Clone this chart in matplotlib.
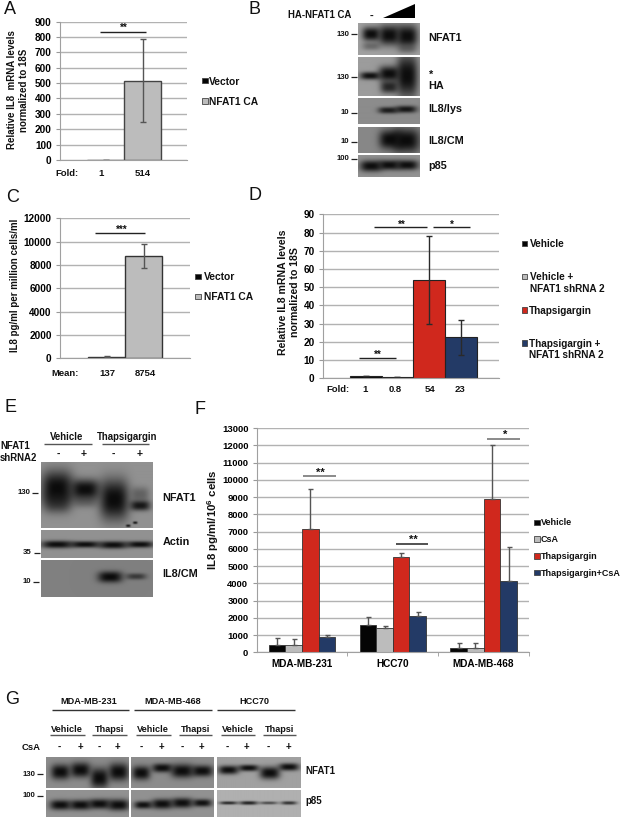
import numpy as np
import matplotlib
matplotlib.use('Agg')
import matplotlib.pyplot as plt
from matplotlib.patches import Rectangle, Polygon

plt.rcParams['font.family'] = ['Liberation Sans', 'DejaVu Sans']
plt.rcParams['font.weight'] = 'bold'
plt.rcParams['mathtext.fontset'] = 'custom'
plt.rcParams['mathtext.bf'] = 'Liberation Sans:bold'

W, H = 622, 818
BLACK, GREY, RED, NAVY = '#050505', '#bcbcbc', '#d0281d', '#233a66'

# panel A
a_values = [1, 514]
a_err = [0, 270]
a_ticks = list(range(0, 901, 100))
# panel C
c_values = [137, 8754]
c_err = [40, 1030]
c_ticks = list(range(0, 12001, 2000))
# panel D
d_values = [1, 0.8, 54, 22.5]
d_err = [0, 0, 24, 9.7]
d_ticks = list(range(0, 91, 10))
d_fold = ['1', '0.8', '54', '23']
# panel F
f_groups = ['MDA-MB-231', 'HCC70', 'MDA-MB-468']
f_vehicle = [420, 1560, 260]
f_csa = [410, 1390, 250]
f_thapsi = [7150, 5500, 8900]
f_thapsi_csa = [880, 2120, 4130]
f_vehicle_err = [380, 510, 260]
f_csa_err = [360, 130, 270]
f_thapsi_err = [2300, 230, 3100]
f_thapsi_csa_err = [150, 190, 1950]
f_ticks = list(range(0, 13001, 1000))

fig = plt.figure(figsize=(W / 100, H / 100), dpi=100, facecolor='white')


def make_axes(left, right, top, bottom, ticks, fs=7.2):
    ax = fig.add_axes([left / W, 1 - bottom / H, (right - left) / W, (bottom - top) / H])
    ax.set_ylim(0, ticks[-1])
    ax.set_yticks(ticks)
    ax.tick_params(axis='y', length=3, width=0.8, color='#999999', labelsize=fs, pad=3)
    ax.tick_params(axis='x', length=0, labelbottom=False)
    ax.grid(axis='y', color='#b2b2b2', lw=1)
    ax.set_axisbelow(True)
    for s in ['top', 'right']:
        ax.spines[s].set_visible(False)
    for s in ['left', 'bottom']:
        ax.spines[s].set_color('#a0a0a0')
    return ax


def xlim_for(ax, left, right, first_center, unit):
    ax.set_xlim((left - first_center) / unit, (right - first_center) / unit)


ecolor = '#555555'
ax = make_axes(60, 187, 21.5, 160, a_ticks)
ax.bar([0, 1], a_values, 1, color=[BLACK, GREY], edgecolor='#444444', lw=1,
       yerr=a_err, ecolor=ecolor, error_kw=dict(lw=1, capsize=2.2, capthick=1))
xlim_for(ax, 60, 187, 105.5, 37)

ax = make_axes(60, 190, 218.3, 358.3, c_ticks)
ax.bar([0, 1], c_values, 1, color=[BLACK, GREY], edgecolor='#333333', lw=1,
       yerr=c_err, ecolor=ecolor, error_kw=dict(lw=1, capsize=2.2, capthick=1))
xlim_for(ax, 60, 190, 106.5, 37.3)

ax = make_axes(323, 499, 214.3, 378.3, d_ticks)
ax.bar(range(4), d_values, 1, color=[BLACK, GREY, RED, NAVY], edgecolor='#222222', lw=0.8,
       yerr=d_err, ecolor='#2a2a2a', error_kw=dict(lw=1, capsize=2.2, capthick=1))
xlim_for(ax, 323, 499, 365.7, 31.7)

ax = make_axes(256.7, 529, 428, 652.3, f_ticks, fs=6.8)
x = np.arange(3)
bw = 16.65 / 90.8
f_series = [(f_vehicle, f_vehicle_err, BLACK), (f_csa, f_csa_err, GREY),
            (f_thapsi, f_thapsi_err, RED), (f_thapsi_csa, f_thapsi_csa_err, NAVY)]
for i, (vals, errs, col) in enumerate(f_series):
    ax.bar(x + (i - 1.5) * bw, vals, bw, color=col, edgecolor='#333333', lw=0.6,
           yerr=[[0] * 3, errs], ecolor='#555555', error_kw=dict(lw=1, capsize=1.8, capthick=1))
ax.set_xlim(-0.5, 2.5)
ax.set_xticks(x, f_groups)
ax.set_xticks([0.5, 1.5, 2.5], minor=True)
ax.tick_params(axis='x', which='major', labelbottom=True, labelsize=7.2, pad=5)
ax.tick_params(axis='x', which='minor', length=3, color='#999999')

# overlay in pixel coordinates for labels and blots
ov = fig.add_axes([0, 0, 1, 1], facecolor='none')
ov.set_xlim(0, W)
ov.set_ylim(H, 0)
ov.axis('off')


def t(x, y, s, size=7.2, ha='center', weight='bold', rot=0):
    ov.text(x, y, s, fontsize=size, ha=ha, va='center', fontweight=weight, rotation=rot,
            color='#111111', rotation_mode='anchor' if rot else 'default')


def hline(x0, x1, y, color='#222222', lw=1):
    ov.plot([x0, x1], [y, y], color=color, lw=lw, solid_capstyle='butt')


def key(x, y, color):
    ov.add_patch(Rectangle((x, y - 2.8), 5.5, 5.5, facecolor=color, edgecolor='#444444', lw=0.6))


def blot(x0, x1, y0, y1, bg, bands):
    xx, yy = np.meshgrid(np.arange(x0, x1, 0.5), np.arange(y0, y1, 0.5))
    keep = np.ones_like(xx)
    for cx, cy, hw, hh, s in bands:
        d = s * np.exp(-(np.abs((xx - cx) / (hw * 1.12)) ** 3) - (np.abs((yy - cy) / (hh * 1.25)) ** 2.4))
        keep *= 1 - d
    img = 0.04 + (bg - 0.09) * keep
    ov.imshow(img, cmap='gray', vmin=0, vmax=1, extent=[x0, x1, y1, y0], aspect='auto',
              interpolation='bilinear', zorder=2)


# panel letters
for lx, ly, letter in [(4, 9, 'A'), (249, 9, 'B'), (6, 197, 'C'), (249, 195, 'D'),
                       (5, 408, 'E'), (195, 410, 'F'), (5, 700, 'G')]:
    t(lx, ly, letter, size=13, ha='left', weight='normal')

# panel A text
t(12, 90, 'Relative IL8  mRNA levels', rot=90, size=7)
t(24, 90, 'normalized to 18S', rot=90, size=7)
hline(100.3, 145.7, 32.3)
t(124, 28, '**', size=7)
t(66.7, 173, 'Fold:', size=6.8)
t(101, 173, '1', size=6.8)
t(143, 173, '514', size=6.8)
key(202, 80.5, BLACK)
t(209, 82, 'Vector', ha='left', size=7.4)
key(202, 101, GREY)
t(209, 102, 'NFAT1 CA', ha='left', size=7.4)

# panel C text
t(15, 285, 'IL8 pg/ml per million cells/ml', rot=90, size=7.0)
hline(95.3, 145, 233)
t(121.7, 230, '***', size=7)
t(65, 374, 'Mean:', size=6.8)
t(107.7, 374, '137', size=6.8)
t(145.7, 374, '8754', size=6.8)
key(195, 276.7, BLACK)
t(204, 277, 'Vector', ha='left', size=7.4)
key(195, 296.5, GREY)
t(204, 297, 'NFAT1 CA', ha='left', size=7.4)

# panel D text
t(283, 292, 'Relative IL8 mRNA levels', rot=90, size=7.6)
t(295, 292, 'normalized to 18S', rot=90, size=7.6)
hline(374, 427.3, 227.3)
t(402, 225, '**', size=7)
hline(433.3, 470.3, 227.3)
t(452, 225, '*', size=7)
hline(359, 396, 358.3)
t(378, 355, '**', size=7)
t(337.7, 390, 'Fold:', size=6.8)
for fx, lab in zip([365, 395, 430, 460], d_fold):
    t(fx, 390, lab, size=6.8)
key(521.7, 243.3, BLACK)
t(530, 244, 'Vehicle', ha='left')
key(521.7, 276.5, GREY)
t(530, 277, 'Vehicle +', ha='left')
t(530, 289, 'NFAT1 shRNA 2', ha='left')
key(521.7, 310, RED)
t(529, 311, 'Thapsigargin', ha='left')
key(521.7, 343, NAVY)
t(529, 344, 'Thapsigargin +', ha='left')
t(529, 355.5, 'NFAT1 shRNA 2', ha='left')

# panel F text
t(212.7, 520, r'IL8 pg/ml/10$^{\mathbf{6}}$ cells', rot=90, size=8.2)
hline(303.3, 336, 475.7, color='#777777', lw=1.2)
t(320, 473, '**', size=8)
hline(395.7, 427.7, 544.3, lw=1.1)
t(413, 540, '**', size=8)
hline(487.3, 519.7, 439, color='#777777', lw=1.2)
t(505, 435, '*', size=8)
for ky, lab, col in zip([522.3, 539, 556, 572.7],
                        ['Vehicle', 'CsA', 'Thapsigargin', 'Thapsigargin+CsA'],
                        [BLACK, GREY, RED, NAVY]):
    key(534, ky, col)
    t(541, ky + 0.5, lab, ha='left', size=6.5)

# panel B
t(320, 15, 'HA-NFAT1 CA', size=6.9)
t(372, 16, '-', size=8)
ov.add_patch(Polygon([(383, 17.5), (414.7, 17.5), (414.7, 4)], facecolor='black', edgecolor='none'))
blot(358, 419.7, 23.3, 54.7, 0.68, [(371, 34, 8, 5.5, 0.98), (371, 46, 8, 3, 0.35),
                                    (389, 35, 9.5, 8, 0.98), (407, 36, 9.5, 9, 0.98), (407, 49, 8, 3, 0.25)])
blot(358, 419.7, 57.7, 96, 0.66, [(370, 76, 9, 3, 0.95), (389, 74, 9.5, 6, 0.98), (389, 87, 8, 5, 0.8),
                                  (407, 76, 9.5, 17, 0.98)])
blot(358, 419.7, 98.7, 124, 0.6, [(388, 110.5, 9, 2.6, 0.85), (406, 109.5, 9.5, 2.8, 0.9)])
blot(358, 419.7, 126.7, 152.7, 0.58, [(390, 139, 10, 7.5, 0.99), (406, 140, 12, 9.5, 0.99)])
blot(358, 419.7, 155.7, 177.3, 0.62, [(371, 166.5, 10, 4.5, 0.97), (389, 165.5, 9.5, 4, 0.97), (407, 165.5, 10, 4, 0.97)])
for my, lab in [(34.3, '130'), (77.3, '130'), (113, '10'), (141.7, '10'), (159, '100')]:
    t(349.5, my, lab, size=5.6, ha='right')
    hline(351, 357, my, lw=0.9)
for ly, lab in [(37.7, 'NFAT1'), (75, '*'), (86, 'HA'), (109, 'IL8/lys'), (141, 'IL8/CM'), (165.7, 'p85')]:
    t(428.7, ly, lab, ha='left', size=7.8)

# panel E
t(67, 436.7, 'Vehicle', size=6.9)
t(126.7, 436.7, 'Thapsigargin', size=6.9)
hline(44, 92, 444, color='#555555')
hline(101.7, 149.3, 444, color='#555555')
t(0, 446, 'NFAT1', ha='left', size=6.9)
t(0, 457.7, 'shRNA2', ha='left', size=6.9)
lanes_e = [58, 84, 113, 140]
for lx, sign in zip(lanes_e, '-+-+'):
    t(lx, 454, sign, size=7.5)
blot(41, 152.7, 463, 528.3, 0.62, [(57, 489, 14, 14, 0.99), (57, 503, 12, 8, 0.5),
                                   (85, 490, 13, 8, 0.98), (85, 502, 11, 5, 0.3),
                                   (114, 500, 13, 16, 0.99), (140, 506, 9, 4, 0.9), (140, 495, 8, 6, 0.35),
                                   (135, 523, 2, 1, 0.9), (128, 526, 2, 1, 0.9)])
blot(41, 152.7, 530.3, 558, 0.62, [(57, 544.5, 14, 3, 0.97), (85, 544.5, 13, 2.6, 0.97),
                                   (113, 545, 13, 3, 0.97), (140, 544.5, 12, 2.6, 0.97)])
blot(41, 152.7, 560.3, 597, 0.55, [(110, 577, 11, 4.5, 0.99), (136, 576.5, 9, 2.5, 0.6)])
for my, lab, dx in [(492.7, '130', 32), (552.7, '35', 34), (581.7, '10', 33)]:
    t(dx - 2, my, lab, size=5.6, ha='right')
    hline(dx, dx + 6, my, lw=0.9)
for ly, lab in [(498, 'NFAT1'), (542, 'Actin'), (574, 'IL8/CM')]:
    t(162.7, ly, lab, ha='left', size=7.8)

# panel G
for cx, x0, x1, lab in [(89, 52, 129, 'MDA-MB-231'), (173, 134.3, 211.7, 'MDA-MB-468'), (254.3, 217, 294.7, 'HCC70')]:
    t(cx, 701.7, lab, size=6.6)
    hline(x0, x1, 710, color='#333333')
for cx, x0, x1, lab in [(67.3, 50, 85.3, 'Vehicle'), (109.3, 92.3, 126.7, 'Thapsi'),
                        (153.3, 136, 171, 'Vehicle'), (195.3, 178.7, 212, 'Thapsi'),
                        (237.7, 220.7, 255.3, 'Vehicle'), (280, 263.3, 296, 'Thapsi')]:
    t(cx, 729.3, lab, size=6.6)
    hline(x0, x1, 735, color='#555555')
t(21.7, 747.3, 'CsA', ha='left', size=6.8)
lanes_g = [59.5, 80, 99.5, 117.5, 141.7, 161.7, 182, 201.7, 227, 246.7, 268, 288]
for lx, sign in zip(lanes_g, '-+-+-+-+-+-+'):
    t(lx, 747.3, sign, size=7)
blot(45.7, 128.3, 757.3, 788, 0.6, [(60, 772, 8.5, 6, 0.98), (80, 770, 9, 6, 0.98), (99, 778, 8, 8, 0.98), (118, 772, 9, 7, 0.98)])
blot(131, 214, 757.3, 788, 0.6, [(141, 773, 8, 5.5, 0.98), (162, 768, 9, 3.5, 0.97), (182, 771, 10, 5.5, 0.98), (202, 771, 9.5, 4.5, 0.97)])
blot(216.7, 300, 757.3, 788, 0.68, [(228, 770, 9, 3.5, 0.97), (248, 768, 9, 2.6, 0.97), (269, 773, 9, 5, 0.98), (288, 767, 9, 3, 0.97)])
blot(45.7, 128.3, 790.3, 817.3, 0.62, [(60, 805, 9.5, 4, 0.97), (80, 805, 9.5, 4, 0.97), (99, 804, 9.5, 4, 0.97), (118, 805, 9.5, 4.5, 0.97)])
blot(131, 214, 790.3, 817.3, 0.62, [(143, 805, 8, 3, 0.95), (162, 804, 9.5, 4, 0.97), (182, 803, 9.5, 4, 0.97), (202, 803, 8.5, 3, 0.95)])
blot(216.7, 300, 790.3, 817.3, 0.74, [(228, 803, 8, 1.3, 0.8), (248, 803, 8, 1.5, 0.85), (268, 803, 8, 1.2, 0.6), (288, 803, 7, 1.4, 0.75)])
for my, lab in [(774, '130'), (795.7, '100')]:
    t(35.5, my, lab, size=5.6, ha='right')
    hline(37, 43, my, lw=0.9)
t(305.7, 771.3, 'NFAT1', ha='left', size=7)
t(305.7, 801, 'p85', ha='left', size=7)

ov.set_xlim(0, W)
ov.set_ylim(H, 0)
fig.savefig('out.png', dpi=100)
